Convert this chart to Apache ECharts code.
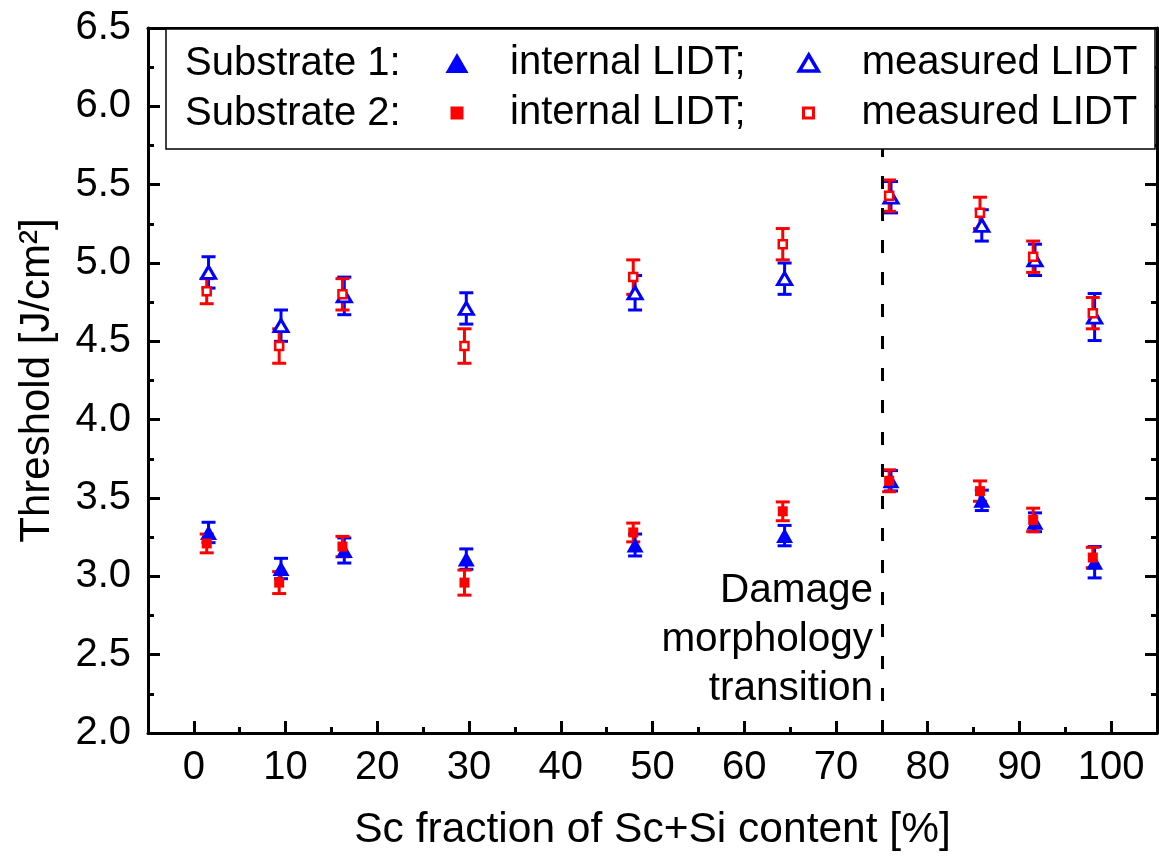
<!DOCTYPE html>
<html><head><meta charset="utf-8">
<script src="https://cdn.jsdelivr.net/npm/echarts@6/dist/echarts.min.js"></script>
<style>html,body{margin:0;padding:0;background:#fff}#c{width:1159px;height:861px}</style>
</head><body><div id="c"></div>
<script>
// ---- data ----
const xS1 = [1.6, 9.5, 16.4, 29.7, 48.1, 64.4, 76.0, 85.9, 91.7, 98.2];
const xS2 = [1.4, 9.3, 16.2, 29.5, 47.9, 64.2, 75.8, 85.7, 91.5, 98.0];
const s1Internal    = [3.28, 3.05, 3.165, 3.11, 3.20, 3.26, 3.61, 3.485, 3.345, 3.09];
const s1InternalErr = [0.065, 0.065, 0.08, 0.065, 0.07, 0.065, 0.065, 0.065, 0.06, 0.10];
const s1Measured    = [4.94, 4.60, 4.79, 4.71, 4.81, 4.90, 5.42, 5.24, 5.02, 4.655];
const s1MeasuredErr = [0.10, 0.10, 0.12, 0.10, 0.11, 0.10, 0.10, 0.10, 0.10, 0.15];
const s2Internal    = [3.21, 2.96, 3.19, 2.96, 3.28, 3.415, 3.61, 3.544, 3.36, 3.12];
const s2InternalErr = [0.06, 0.07, 0.065, 0.08, 0.06, 0.06, 0.07, 0.065, 0.075, 0.065];
const s2Measured    = [4.82, 4.47, 4.80, 4.47, 4.91, 5.12, 5.43, 5.32, 5.04, 4.68];
const s2MeasuredErr = [0.08, 0.11, 0.10, 0.11, 0.11, 0.10, 0.10, 0.10, 0.10, 0.10];
const xTicks = [0, 10, 20, 30, 40, 50, 60, 70, 80, 90, 100];
const xMinorTicks = [5, 15, 25, 35, 45, 55, 65, 75, 85, 95];
const transitionX = 75;
const legendText = {
  'S1 internal': 'internal LIDT;', 'S1 measured': 'measured LIDT',
  'S2 internal': 'internal LIDT;', 'S2 measured': 'measured LIDT'
};

const FONT = 'Liberation Sans, Arial, Helvetica, sans-serif';
const BLUE = '#0000ff', RED = '#ff0000';

function rows(xs, ys) { return xs.map((x, i) => [x, ys[i]]); }
function errRows(xs, ys, es) { return xs.map((x, i) => [x, ys[i], es[i]]); }

function errSeries(name, xs, ys, es, color) {
  return {
    name: name, type: 'custom', silent: true, z: 2,
    data: errRows(xs, ys, es),
    renderItem: function (params, api) {
      const x = api.value(0), y = api.value(1), e = api.value(2);
      const top = api.coord([x, y + e]);
      const bot = api.coord([x, y - e]);
      const hw = 7;
      const st = { stroke: color, lineWidth: 3 };
      return {
        type: 'group',
        children: [
          { type: 'line', shape: { x1: top[0], y1: top[1], x2: bot[0], y2: bot[1] }, style: st },
          { type: 'line', shape: { x1: top[0] - hw, y1: top[1], x2: top[0] + hw, y2: top[1] }, style: st },
          { type: 'line', shape: { x1: bot[0] - hw, y1: bot[1], x2: bot[0] + hw, y2: bot[1] }, style: st }
        ]
      };
    }
  };
}

const axisLineStyle = { color: '#000', width: 3 };
const tickStyle = { color: '#000', width: 3 };

function legendItem(name, icon, left, top, w, h, padLeft, extraItemStyle) {
  return {
    data: [{ name: name, icon: icon }],
    left: left, top: top, padding: 0, z: 10,
    orient: 'horizontal', selectedMode: false,
    itemWidth: w, itemHeight: h,
    itemStyle: extraItemStyle || {},
    formatter: n => legendText[n],
    textStyle: { fontFamily: FONT, fontSize: 40, color: '#000', lineHeight: 42, padding: [0, 0, 0, padLeft] }
  };
}

const chart = echarts.init(document.getElementById('c'), null, { renderer: 'canvas' });
const option = {
  animation: false,
  backgroundColor: '#fff',
  textStyle: { fontFamily: FONT },
  grid: { left: 148, right: 2, top: 28, bottom: 128 },
  xAxis: [
    {
      type: 'value', position: 'bottom', min: -5, max: 105,
      axisLine: { show: true, onZero: false, lineStyle: axisLineStyle },
      axisTick: { show: true, inside: true, length: 12, lineStyle: tickStyle, customValues: xTicks },
      axisLabel: { customValues: xTicks, fontSize: 40, color: '#000', margin: 15, fontFamily: FONT },
      splitLine: { show: false },
      name: 'Sc fraction of Sc+Si content [%]', nameLocation: 'middle', nameGap: 76,
      nameTextStyle: { fontSize: 42.5, color: '#000', fontFamily: FONT }
    },
    {
      type: 'value', position: 'bottom', min: -5, max: 105,
      axisLine: { show: false, onZero: false },
      axisTick: { show: true, inside: true, length: 6, lineStyle: tickStyle, customValues: xMinorTicks },
      axisLabel: { show: false }, splitLine: { show: false }
    },
    {
      type: 'value', position: 'top', min: -5, max: 105,
      axisLine: { show: true, onZero: false, lineStyle: axisLineStyle },
      axisTick: { show: true, inside: true, length: 12, lineStyle: tickStyle, customValues: xTicks },
      axisLabel: { show: false }, splitLine: { show: false }
    }
  ],
  yAxis: [
    {
      type: 'value', position: 'left', min: 2, max: 6.5, interval: 0.5,
      axisLine: { show: true, onZero: false, lineStyle: axisLineStyle },
      axisTick: { show: true, inside: true, length: 12, lineStyle: tickStyle },
      minorTick: { show: true, splitNumber: 2, length: 6, lineStyle: tickStyle },
      axisLabel: { formatter: v => v.toFixed(1), fontSize: 40, color: '#000', margin: 17, fontFamily: FONT },
      splitLine: { show: false }, minorSplitLine: { show: false },
      name: 'Threshold [J/cm²]', nameLocation: 'middle', nameGap: 90, nameRotate: 90,
      nameTextStyle: { fontSize: 42, color: '#000', fontFamily: FONT }
    },
    {
      type: 'value', position: 'right', min: 2, max: 6.5, interval: 0.5,
      axisLine: { show: true, onZero: false, lineStyle: axisLineStyle },
      axisTick: { show: true, inside: true, length: 12, lineStyle: tickStyle },
      minorTick: { show: true, splitNumber: 2, length: 6, lineStyle: tickStyle },
      axisLabel: { show: false },
      splitLine: { show: false }, minorSplitLine: { show: false }
    }
  ],
  legend: [
    legendItem('S1 internal', 'triangle', 445.5, 42, 23, 20, 36.5, { borderWidth: 0 }),
    legendItem('S1 measured', 'triangle', 797.5, 42, 19, 16, 38.5, { borderWidth: 3.5 }),
    legendItem('S2 internal', 'rect', 450.5, 92, 13, 13, 41.5, { borderWidth: 0 }),
    legendItem('S2 measured', 'rect', 802, 92, 10, 10, 43, { borderWidth: 3 })
  ],
  graphic: [
    { type: 'rect', z: 8, shape: { x: 166, y: 29, width: 989, height: 120 },
      style: { fill: '#fff', stroke: '#000', lineWidth: 1.5 } },
    { type: 'text', z: 11, x: 185, y: 64,
      style: { text: 'Substrate 1:', fontSize: 40, fontFamily: FONT, fill: '#000', verticalAlign: 'middle' } },
    { type: 'text', z: 11, x: 185, y: 114,
      style: { text: 'Substrate 2:', fontSize: 40, fontFamily: FONT, fill: '#000', verticalAlign: 'middle' } },
    { type: 'text', z: 11, x: 873, y: 640,
      style: { text: 'Damage\nmorphology\ntransition', fontSize: 40.5, lineHeight: 49, fontFamily: FONT,
               fill: '#000', align: 'right', verticalAlign: 'middle' } }
  ],
  series: [
    errSeries('S1 internal err', xS1, s1Internal, s1InternalErr, BLUE),
    errSeries('S1 measured err', xS1, s1Measured, s1MeasuredErr, BLUE),
    {
      name: 'S1 internal', type: 'scatter', z: 3, symbol: 'triangle', symbolSize: [17, 15],
      itemStyle: { color: BLUE, opacity: 1 }, data: rows(xS1, s1Internal),
      markLine: {
        silent: true, symbol: 'none', label: { show: false },
        lineStyle: { color: '#000', width: 3, type: [13, 19], opacity: 1 },
        data: [{ xAxis: transitionX }]
      }
    },
    {
      name: 'S1 measured', type: 'scatter', z: 3, symbol: 'triangle', symbolSize: [14, 12],
      itemStyle: { color: '#fff', borderColor: BLUE, borderWidth: 3, opacity: 1 }, data: rows(xS1, s1Measured)
    },
    errSeries('S2 internal err', xS2, s2Internal, s2InternalErr, RED),
    errSeries('S2 measured err', xS2, s2Measured, s2MeasuredErr, RED),
    {
      name: 'S2 internal', type: 'scatter', z: 4, symbol: 'rect', symbolSize: 10,
      itemStyle: { color: RED, opacity: 1 }, data: rows(xS2, s2Internal)
    },
    {
      name: 'S2 measured', type: 'scatter', z: 4, symbol: 'rect', symbolSize: 8,
      itemStyle: { color: '#fff', borderColor: RED, borderWidth: 2.5, opacity: 1 }, data: rows(xS2, s2Measured)
    }
  ]
};
chart.setOption(option);
</script>
</body></html>
